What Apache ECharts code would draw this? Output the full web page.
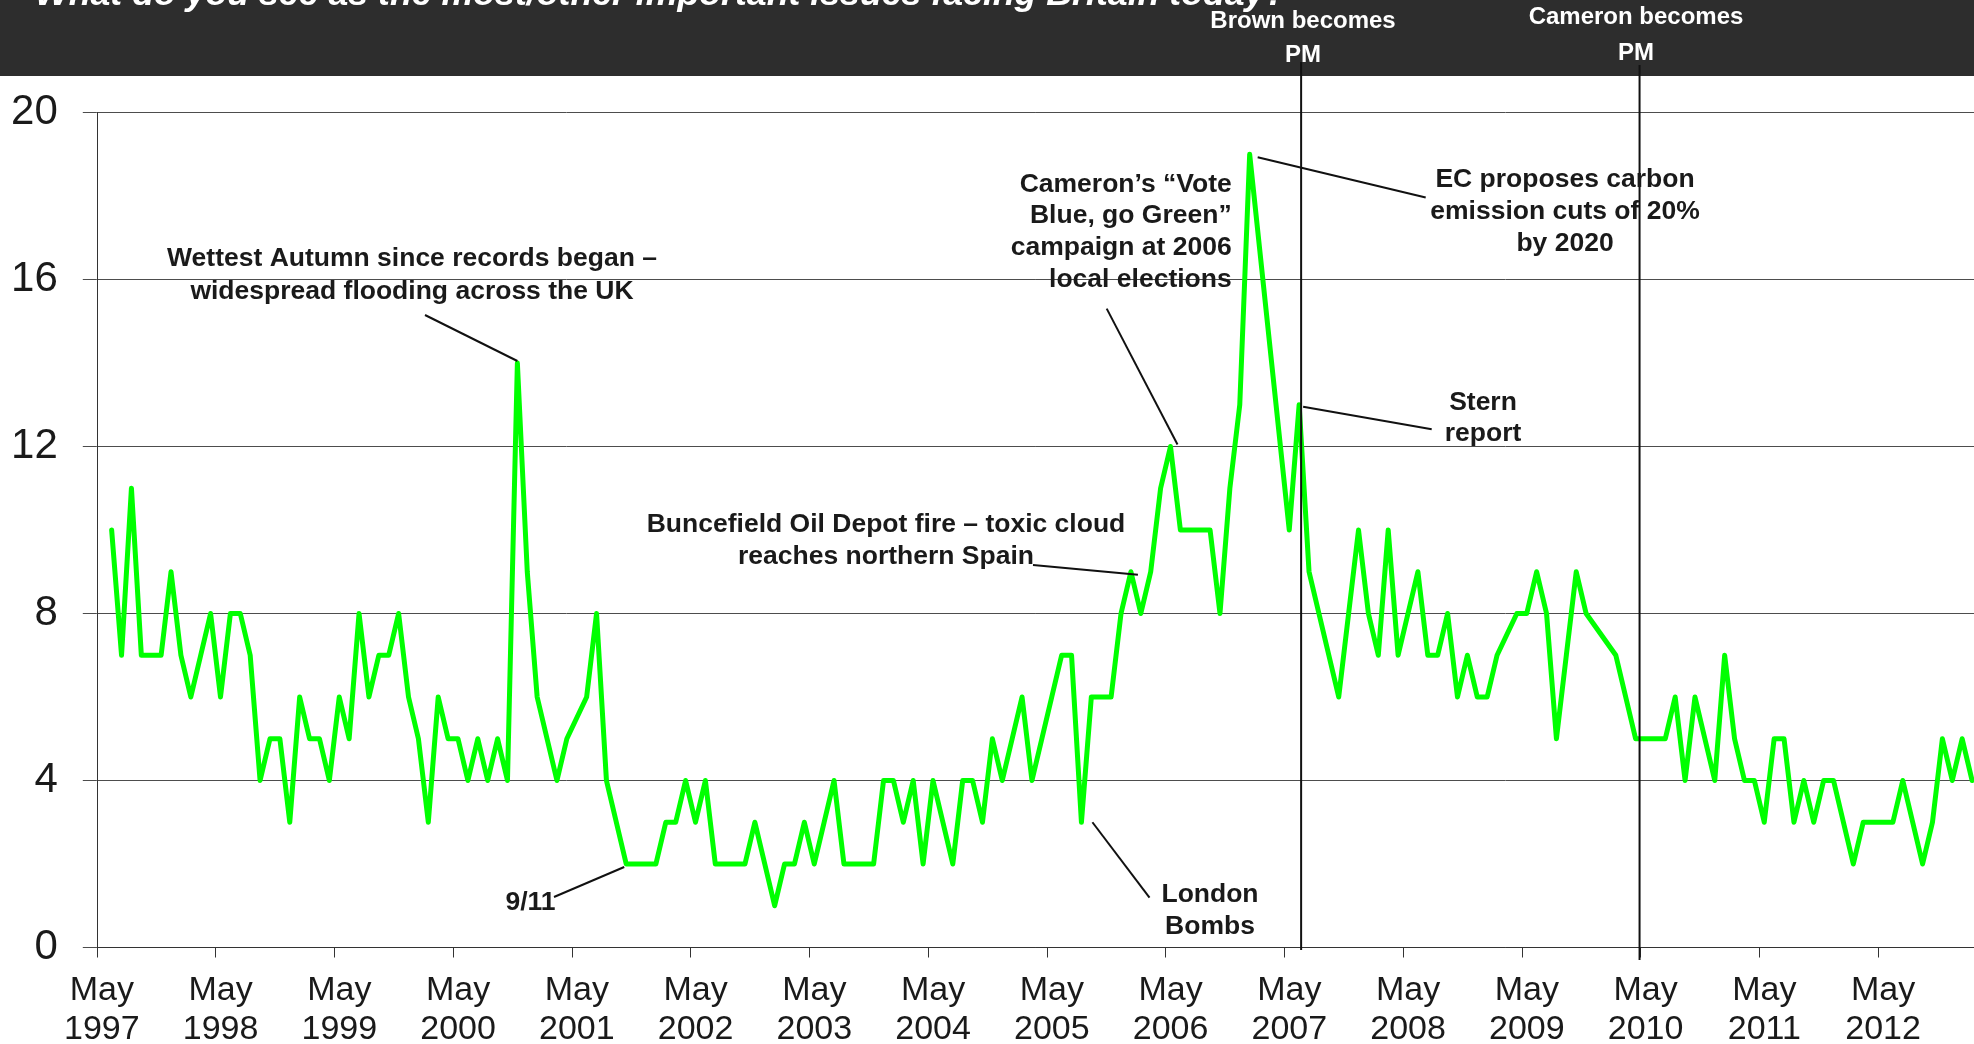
<!DOCTYPE html>
<html>
<head>
<meta charset="utf-8">
<script src="https://cdn.jsdelivr.net/npm/echarts@6/dist/echarts.min.js"></script>
<style>
html,body{margin:0;padding:0;background:#ffffff;}
#c{width:1974px;height:1044px;}
</style>
</head>
<body>
<div id="c"></div>
<script>
// ---- DATA (monthly survey readings, % naming the issue) ----
const dates = [
  '1997-06','1997-07','1997-08','1997-09','1997-10','1997-11','1997-12',
  '1998-01','1998-02','1998-03','1998-04','1998-05','1998-06','1998-07','1998-08','1998-09','1998-10','1998-11','1998-12',
  '1999-01','1999-02','1999-03','1999-04','1999-05','1999-06','1999-07','1999-08','1999-09','1999-10','1999-11','1999-12',
  '2000-01','2000-02','2000-03','2000-04','2000-05','2000-06','2000-07','2000-08','2000-09','2000-10','2000-11','2000-12',
  '2001-01','2001-02','2001-03','2001-04','2001-06','2001-07','2001-08','2001-10','2001-11','2001-12',
  '2002-01','2002-02','2002-03','2002-04','2002-05','2002-06','2002-07','2002-08','2002-09','2002-10','2002-11','2002-12',
  '2003-01','2003-02','2003-03','2003-04','2003-05','2003-06','2003-07','2003-08','2003-09','2003-10','2003-11','2003-12',
  '2004-01','2004-02','2004-03','2004-04','2004-05','2004-06','2004-07','2004-08','2004-09','2004-10','2004-11','2004-12',
  '2005-01','2005-02','2005-03','2005-04','2005-05','2005-06','2005-07','2005-08','2005-09','2005-10','2005-11','2005-12',
  '2006-01','2006-02','2006-03','2006-04','2006-05','2006-06','2006-07','2006-08','2006-09','2006-10','2006-11','2006-12',
  '2007-01','2007-05','2007-06','2007-07','2007-08','2007-09','2007-10','2007-11','2007-12',
  '2008-01','2008-02','2008-03','2008-04','2008-05','2008-06','2008-07','2008-08','2008-09','2008-10','2008-11','2008-12',
  '2009-01','2009-02','2009-04','2009-05','2009-06','2009-07','2009-08','2009-09','2009-10','2009-11',
  '2010-02','2010-03','2010-04','2010-05','2010-06','2010-07','2010-08','2010-09','2010-10','2010-11','2010-12',
  '2011-01','2011-02','2011-03','2011-04','2011-05','2011-06','2011-07','2011-08','2011-09','2011-10','2011-11','2011-12',
  '2012-01','2012-02','2012-03','2012-04','2012-05','2012-06','2012-07','2012-08','2012-09','2012-10','2012-11','2012-12',
  '2013-01','2013-02'
];
const values = [
  10,7,11,7,7,7,9,
  7,6,7,8,6,8,8,7,4,5,5,3,
  6,5,5,4,6,5,8,6,7,7,8,6,
  5,3,6,5,5,4,5,4,5,4,14,9,
  6,5,4,5,6,8,4,2,2,2,
  2,3,3,4,3,4,2,2,2,2,3,2,
  1,2,2,3,2,3,4,2,2,2,2,4,
  4,3,4,2,4,3,2,4,4,3,5,4,
  5,6,4,5,6,7,7,3,6,6,6,8,
  9,8,9,11,12,10,10,10,10,8,11,13,
  19,10,13,9,8,7,6,8,10,
  8,7,10,7,8,9,7,7,8,6,7,6,
  6,7,8,8,9,8,5,7,9,8,
  7,6,5,5,5,5,6,4,6,5,4,
  7,5,4,4,3,5,5,3,4,3,4,4,
  3,2,3,3,3,3,4,3,2,3,5,4,
  5,4
];
const tickLabels = ['May\n1997','May\n1998','May\n1999','May\n2000','May\n2001','May\n2002','May\n2003','May\n2004',
  'May\n2005','May\n2006','May\n2007','May\n2008','May\n2009','May\n2010','May\n2011','May\n2012'];
const yMin = 0, yMax = 20, yStep = 4;
const titleText = 'What do you see as the most/other important issues facing Britain today?';

// months since 1 May 1997 (points sit mid-month)
function monthPos(d){ const p = d.split('-').map(Number); return (p[0]-1997)*12 + (p[1]-5) + 0.5; }
const seriesData = dates.map((d,i)=>[monthPos(d), values[i]]);

// events shown as vertical lines (months since 1 May 1997)
const pmEvents = [
  {label:'Brown becomes\nPM', at:121.7, top:62, bottom:950, cx:1303, cy:38, lh:34},
  {label:'Cameron becomes\nPM', at:155.9, top:65, bottom:960, cx:1636, cy:35.3, lh:36}
];

// annotations (text placement + which data point the leader line points to)
const notes = [
  {text:'Wettest Autumn since records began –\nwidespread flooding across the UK', x:412, y:275.5, align:'center', lh:33, from:[425,315], at:['2000-11',14], off:[0,-2]},
  {text:'9/11', x:530.5, y:903, align:'center', lh:32, from:[554,897], at:['2001-10',2], off:[-2,3]},
  {text:'Buncefield Oil Depot fire – toxic cloud\nreaches northern Spain', x:886, y:541, align:'center', lh:32, from:[1033,565], at:['2006-01',9], off:[7,3]},
  {text:'Cameron’s “Vote\nBlue, go Green”\ncampaign at 2006\nlocal elections', x:1231.7, y:232, align:'right', lh:31.8, from:[1106.7,308.6], at:['2006-05',12], off:[7,-2]},
  {text:'EC proposes carbon\nemission cuts of 20%\nby 2020', x:1565, y:212, align:'center', lh:32, from:[1425.7,197.5], at:['2007-01',19], off:[8,3]},
  {text:'Stern\nreport', x:1483, y:418, align:'center', lh:31, from:[1431.7,429.3], at:['2007-06',13], off:[4,2]},
  {text:'London\nBombs', x:1210, y:911, align:'center', lh:32, from:[1149.5,897.7], at:['2005-08',3], off:[11,0]}
];

const FONT = '"Liberation Sans", Arial, Helvetica, sans-serif';
const chart = echarts.init(document.getElementById('c'), null, {renderer:'canvas', width:1974, height:1044});

chart.setOption({
  animation:false,
  backgroundColor:'#ffffff',
  grid:{left:96.8, top:112.5, width:1900, bottom:96.5, containLabel:false, outerBoundsMode:'none'},
  xAxis:{
    type:'value', min:0, max:192, interval:12,
    axisLine:{show:true, onZero:false, lineStyle:{color:'#333333', width:1}},
    axisTick:{show:true, length:10, lineStyle:{color:'#333333'}},
    splitLine:{show:false},
    axisLabel:{
      show:true, margin:24, fontFamily:FONT, fontSize:34, lineHeight:39, color:'#1a1a1a',
      padding:[0,0,0,10], showMaxLabel:false, hideOverlap:false,
      formatter:function(v){ const i = Math.round(v/12); return (i < tickLabels.length) ? tickLabels[i] : ''; }
    }
  },
  yAxis:{
    type:'value', min:yMin, max:yMax, interval:yStep,
    axisLine:{show:true, lineStyle:{color:'#333333', width:1}},
    axisTick:{show:true, length:14, lineStyle:{color:'#4d4d4d'}},
    splitLine:{show:true, lineStyle:{color:'#4d4d4d', width:1}},
    axisLabel:{margin:39, fontFamily:FONT, fontSize:42, color:'#1a1a1a'}
  },
  series:[{
    type:'line', data:seriesData, symbol:'none', z:3,
    lineStyle:{color:'#00ff00', width:5, join:'round', cap:'round'}
  }]
});

// ---- annotation layer (positions derived from the chart's own scales) ----
const px = (m, v) => chart.convertToPixel({gridIndex:0}, [m, v]);
const g = [];
g.push({type:'rect', shape:{x:0, y:0, width:1974, height:76}, style:{fill:'#2d2d2d'}, z:100});
g.push({type:'text', x:35, y:-5.3, z:101,
  style:{text:titleText, fill:'#ffffff', font:'italic bold 35.7px ' + FONT, textAlign:'left', textVerticalAlign:'middle'}});
pmEvents.forEach(e => {
  const x = px(e.at, 0)[0];
  g.push({type:'line', shape:{x1:x, y1:e.top, x2:x, y2:e.bottom}, style:{stroke:'#111111', lineWidth:2}, z:102});
  g.push({type:'text', x:e.cx, y:e.cy, z:103,
    style:{text:e.label, fill:'#ffffff', font:'bold 24px ' + FONT, lineHeight:e.lh, textAlign:'center', textVerticalAlign:'middle'}});
});
notes.forEach(n => {
  const p = px(monthPos(n.at[0]), n.at[1]);
  g.push({type:'line', shape:{x1:n.from[0], y1:n.from[1], x2:p[0]+n.off[0], y2:p[1]+n.off[1]}, style:{stroke:'#111111', lineWidth:2}, z:104});
  g.push({type:'text', x:n.x, y:n.y, z:105,
    style:{text:n.text, fill:'#1a1a1a', font:'bold 26.5px ' + FONT, lineHeight:n.lh, textAlign:n.align, textVerticalAlign:'middle'}});
});
chart.setOption({graphic:{elements:g}});
</script>
</body>
</html>
